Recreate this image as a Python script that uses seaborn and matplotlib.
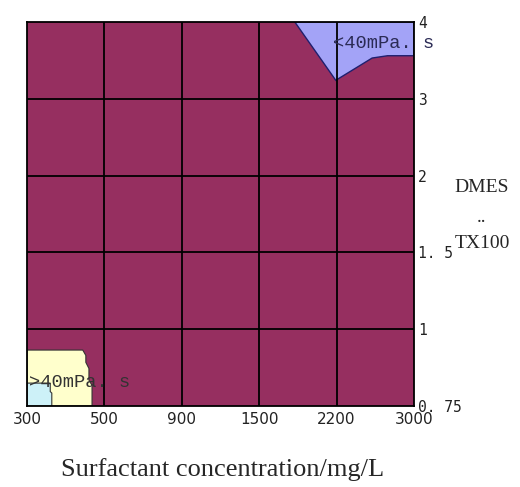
import numpy as np
import matplotlib
matplotlib.use("Agg")
import matplotlib.pyplot as plt
import seaborn as sns
from matplotlib.colors import ListedColormap

# tick labels (equal spacing on both axes)
conc_labels = ["300", "500", "900", "1500", "2200", "3000"]
ratio_labels = ["0. 75", "1", "1. 5", "2", "3", "4"]

# viscosity class per grid cell (all cells are in the main region)
cell_class = np.ones((5, 5))

# region outlines, in grid step units (x: concentration step, y: ratio step)
low_x = [3.46, 3.99, 4.46, 4.66, 5.0, 5.0]
low_y = [5.0, 4.24, 4.53, 4.56, 4.56, 5.0]

high_x = [0, 0.72, 0.76, 0.76, 0.80, 0.80, 0.84, 0.84, 0]
high_y = [0.73, 0.73, 0.66, 0.57, 0.49, 0.34, 0.27, 0, 0]

corner_x = [0, 0.30, 0.30, 0.32, 0.32, 0]
corner_y = [0.30, 0.30, 0.19, 0.17, 0, 0]

maroon = "#962F60"
lavender = "#A3A3F7"
cream = "#FFFFCC"
icy = "#CDF1F8"

sns.set_style("white")
fig = plt.figure(figsize=(5.2, 4.87), dpi=100)
ax = fig.add_axes([0.052, 0.166, 0.744, 0.789])

sns.heatmap(cell_class, cmap=ListedColormap([maroon]), cbar=False, ax=ax)
ax.set_ylim(0, 5)
ax.set_xlim(0, 5)

ax.fill(low_x, low_y, facecolor=lavender, edgecolor="#1F1F6E", linewidth=1, zorder=2)
ax.fill(high_x, high_y, facecolor=cream, edgecolor="#333333", linewidth=0.8, zorder=2)
ax.fill(corner_x, corner_y, facecolor=icy, edgecolor="#333333", linewidth=0.8, zorder=2)

# grid on top of the filled regions
for i in range(1, 5):
    ax.axvline(i, color="black", linewidth=1.3, zorder=3)
    ax.axhline(i, color="black", linewidth=1.3, zorder=3)
for s in ax.spines.values():
    s.set_visible(True)
    s.set_color("black")
    s.set_linewidth(1.3)
    s.set_zorder(4)

ax.set_xticks(range(6))
ax.set_xticklabels(conc_labels, rotation=0, fontsize=11, fontfamily="DejaVu Sans", color="#222222")
ax.set_yticks(range(6))
ax.set_yticklabels(ratio_labels, rotation=0, fontsize=10.5, fontfamily="DejaVu Sans Mono", color="#222222")
ax.yaxis.tick_right()
ax.tick_params(axis="x", length=0, pad=4)
ax.tick_params(axis="y", length=0, pad=3)
ax.set_xlabel("")
ax.set_ylabel("")

ax.text(3.95, 4.72, "<40mPa. s", fontsize=13.5, fontfamily="Liberation Mono",
        color="#2B2B55", va="center", ha="left", zorder=5, clip_on=False)
ax.text(0.02, 0.31, ">40mPa. s", fontsize=13.5, fontfamily="Liberation Mono",
        color="#333333", va="center", ha="left", zorder=5, clip_on=False)

fig.text(0.927, 0.616, "DMES", fontsize=14, fontfamily="Liberation Serif", ha="center", va="center")
fig.text(0.925, 0.553, "..", fontsize=14, fontfamily="Liberation Serif", ha="center", va="center")
fig.text(0.927, 0.501, "TX100", fontsize=14, fontfamily="Liberation Serif", ha="center", va="center")

fig.text(0.428, 0.035, "Surfactant concentration/mg/L", fontsize=19,
         fontfamily="Liberation Serif", ha="center", va="center")

fig.savefig("out.png", dpi=100)
